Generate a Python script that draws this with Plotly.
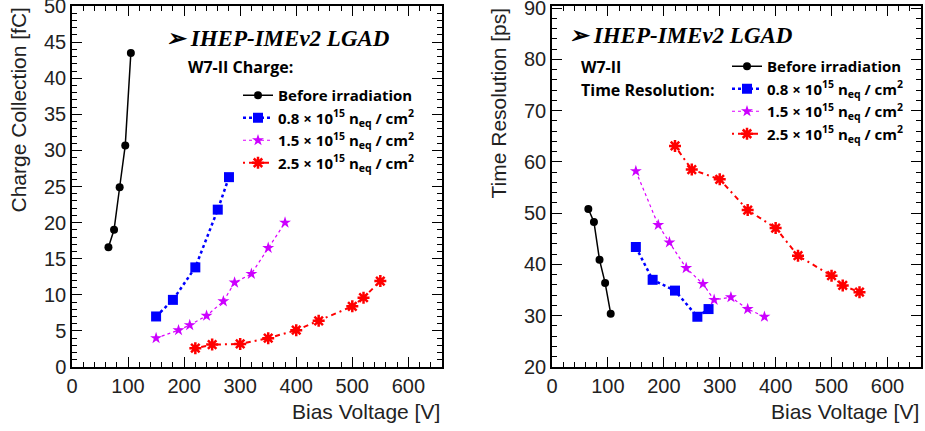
import plotly.graph_objects as go
from plotly.subplots import make_subplots

# bias voltage [V]
v_before = [65, 75, 85, 95, 105]
v_08 = [150, 180, 220, 260, 280]
v_15 = [150, 190, 210, 240, 270, 290, 320, 350, 380]
v_25 = [220, 250, 300, 350, 400, 440, 500, 520, 550]

# charge collection [fC]
q_before = [16.6, 19.0, 24.9, 30.7, 43.5]
q_08 = [7.0, 9.3, 13.8, 21.8, 26.3]
q_15 = [4.0, 5.1, 5.8, 7.1, 9.1, 11.7, 12.9, 16.5, 20.0]
q_25 = [2.6, 3.1, 3.2, 4.0, 5.1, 6.4, 8.4, 9.6, 11.9]

# time resolution [ps]
t_before = [50.8, 48.3, 40.9, 36.4, 30.4]
t_08 = [43.4, 37.0, 34.9, 29.8, 31.3]
t_15 = [58.2, 47.7, 44.3, 39.3, 36.2, 33.1, 33.6, 31.3, 29.8]
t_25 = [63.1, 58.5, 56.6, 50.6, 47.1, 41.7, 37.8, 35.9, 34.6]

names = [
    'Before irradiation',
    '0.8 \u00d7 10<sup>15</sup> n<sub>eq</sub> / cm<sup>2</sup>',
    '1.5 \u00d7 10<sup>15</sup> n<sub>eq</sub> / cm<sup>2</sup>',
    '2.5 \u00d7 10<sup>15</sup> n<sub>eq</sub> / cm<sup>2</sup>',
]

styles = [
    dict(line=dict(color='black', width=1.5, dash='solid'),
         marker=dict(symbol='circle', size=8, color='black')),
    dict(line=dict(color='#0000ff', width=2.5, dash='dot'),
         marker=dict(symbol='square', size=10, color='#0000ff')),
    dict(line=dict(color='#dd00ff', width=1.2, dash='dot'),
         marker=dict(symbol='star', size=9, color='#cc00ff')),
    dict(line=dict(color='#ff0000', width=2, dash='2px,4px,5px,4px'),
         marker=dict(symbol='asterisk-open', size=10, color='#ff0000',
                     line=dict(color='#ff0000', width=2.5))),
]

fig = make_subplots(rows=1, cols=2, horizontal_spacing=0.13)

left = [(v_before, q_before), (v_08, q_08), (v_15, q_15), (v_25, q_25)]
right = [(v_before, t_before), (v_08, t_08), (v_15, t_15), (v_25, t_25)]

for i, (x, y) in enumerate(left):
    fig.add_trace(go.Scatter(x=x, y=y, mode='lines+markers', name=names[i],
                             legend='legend', **styles[i]), row=1, col=1)
for i, (x, y) in enumerate(right):
    fig.add_trace(go.Scatter(x=x, y=y, mode='lines+markers', name=names[i],
                             legend='legend2', **styles[i]), row=1, col=2)

axis_common = dict(
    showline=True, linecolor='black', linewidth=1.5, mirror='allticks',
    ticks='inside', ticklen=10, tickwidth=1.2, tickcolor='black',
    showgrid=False, zeroline=False, automargin=False, ticklabeloverflow='allow',
    tickfont=dict(family='Liberation Sans, Arial', size=20, color='#222'),
)

fig.update_xaxes(range=[0, 660], dtick=100, tick0=0,
                 minor=dict(ticks='inside', dtick=20, ticklen=5, tickcolor='black'),
                 **axis_common)
fig.update_yaxes(range=[0, 50.01], dtick=5, tick0=0,
                 minor=dict(ticks='inside', dtick=1, ticklen=5, tickcolor='black'),
                 row=1, col=1, **axis_common)
fig.update_yaxes(range=[20, 90.4], dtick=10, tick0=0,
                 minor=dict(ticks='inside', dtick=2, ticklen=5, tickcolor='black'),
                 row=1, col=2, **axis_common)

# domains to match frame positions
W, H = 925, 431
ml, mr, mt, mb = 72, 4, 6, 64
pw = W - ml - mr
ph = H - mt - mb
fig.update_layout(
    xaxis=dict(domain=[0, (442 - ml) / pw]),
    xaxis2=dict(domain=[(552 - ml) / pw, 1.0]),
)

leg_font = dict(family='Open Sans, Liberation Sans', size=15, color='black', weight='bold')
fig.update_layout(
    width=W, height=H,
    margin=dict(l=ml, r=mr, t=mt, b=mb),
    plot_bgcolor='white', paper_bgcolor='white',
    legend=dict(x=(238 - ml) / pw, y=1 - (79 - mt) / ph, xanchor='left', yanchor='top',
                bgcolor='rgba(0,0,0,0)', font=leg_font, tracegroupgap=0, itemwidth=30),
    legend2=dict(x=(727 - ml) / pw, y=1 - (50 - mt) / ph, xanchor='left', yanchor='top',
                 bgcolor='rgba(0,0,0,0)', font=leg_font, tracegroupgap=0, itemwidth=30),
)

title_font = dict(family='Liberation Serif, Times New Roman', size=23, color='black',
                  weight='bold', style='italic')
lab_font = dict(family='Open Sans, Liberation Sans', size=16, color='black', weight='bold')
ax_font = dict(family='Liberation Sans, Arial', size=21, color='#222')

annotations = [
    dict(text='\u27a2 IHEP-IMEv2 LGAD', x=164, y=38, font=title_font),
    dict(text='W7-II Charge:', x=186, y=67, font=lab_font),
    dict(text='\u27a2 IHEP-IMEv2 LGAD', x=567, y=36, font=title_font),
    dict(text='W7-II', x=579, y=67, font=lab_font),
    dict(text='Time Resolution:', x=579, y=90, font=lab_font),
]
for a in annotations:
    fig.add_annotation(xref='paper', yref='paper', xanchor='left', yanchor='middle',
                       showarrow=False, text=a['text'], font=a['font'],
                       x=(a['x'] - ml) / pw, y=1 - (a['y'] - mt) / ph)

# axis titles, ROOT style aligned to the axis end
for xr in [442, 921]:
    fig.add_annotation(xref='paper', yref='paper', xanchor='right', yanchor='middle',
                       showarrow=False, text='Bias Voltage [V]', font=ax_font,
                       x=(xr - ml) / pw, y=1 - (412 - mt) / ph)
for xp, txt in [(18, 'Charge Collection [fC]'), (498, 'Time Resolution [ps]')]:
    fig.add_annotation(xref='paper', yref='paper', xanchor='center', yanchor='top',
                       showarrow=False, text=txt, font=ax_font, textangle=-90,
                       x=(xp - ml) / pw, y=1.0)

fig.write_html('out.html', config={'displayModeBar': False},
               post_script="document.body.style.margin='0';")
